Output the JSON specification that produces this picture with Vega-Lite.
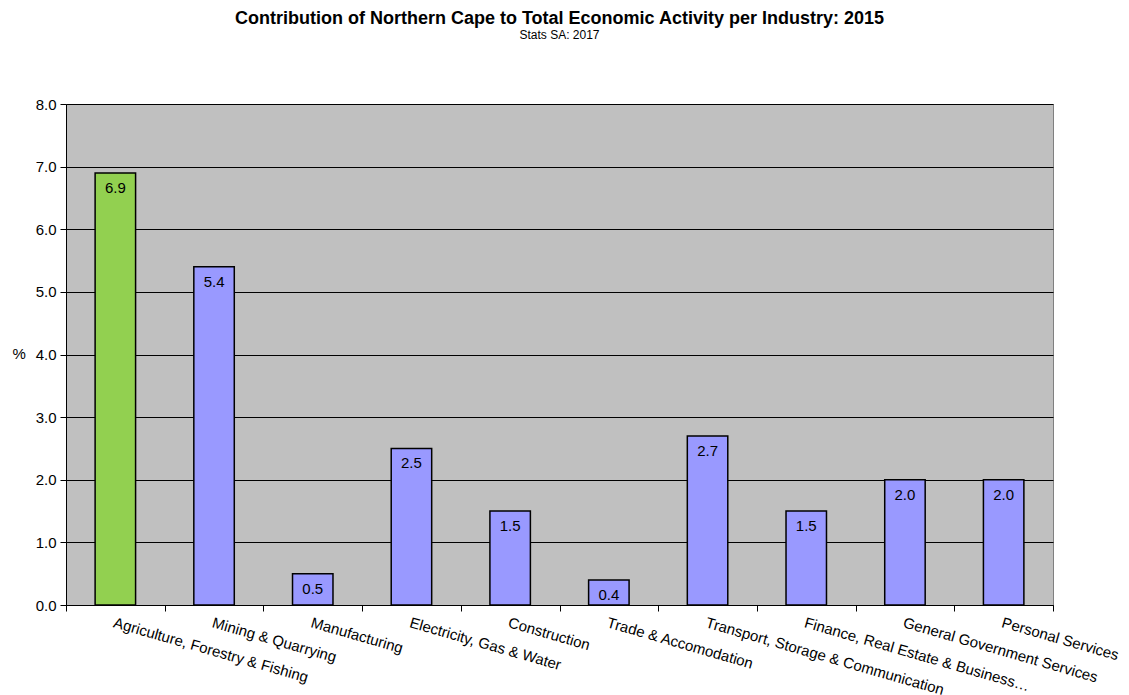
{
  "$schema": "https://vega.github.io/schema/vega-lite/v6.json",
  "width": 987,
  "height": 501,
  "autosize": "none",
  "padding": {"left": 66, "top": 104, "right": 76, "bottom": 90},
  "background": "#ffffff",
  "config": {
    "font": "Liberation Sans",
    "view": {"fill": "#c0c0c0", "stroke": "#808080", "strokeWidth": 1}
  },
  "title": {
    "text": "Contribution of Northern Cape to Total Economic Activity per Industry: 2015",
    "subtitle": "Stats SA: 2017",
    "fontSize": 18,
    "fontWeight": "bold",
    "font": "Liberation Sans",
    "subtitleFont": "Liberation Sans",
    "subtitleFontSize": 12,
    "subtitleColor": "#000000",
    "color": "#000000",
    "subtitlePadding": 2,
    "anchor": "middle",
    "offset": 56
  },
  "data": {
    "values": [
      {"industry": "Agriculture, Forestry & Fishing", "value": 6.9},
      {"industry": "Mining & Quarrying", "value": 5.4},
      {"industry": "Manufacturing", "value": 0.5},
      {"industry": "Electricity, Gas & Water", "value": 2.5},
      {"industry": "Construction", "value": 1.5},
      {"industry": "Trade & Accomodation", "value": 0.4},
      {"industry": "Transport, Storage & Communication", "value": 2.7},
      {"industry": "Finance, Real Estate & Business…", "value": 1.5},
      {"industry": "General Government Services", "value": 2.0},
      {"industry": "Personal Services", "value": 2.0}
    ]
  },
  "encoding": {
    "x": {
      "field": "industry",
      "type": "nominal",
      "sort": null,
      "scale": {"paddingInner": 0, "paddingOuter": 0},
      "axis": {
        "title": null,
        "tickBand": "extent",
        "labelAngle": 16,
        "labelAlign": "left",
        "labelBaseline": "top",
        "labelFontSize": 15,
        "labelColor": "#000000",
        "labelPadding": 4,
        "labelOverlap": false,
        "labelLimit": 400,
        "tickSize": 6,
        "tickColor": "#000000",
        "domainColor": "#000000",
        "grid": false
      }
    },
    "y": {
      "field": "value",
      "type": "quantitative",
      "scale": {"domain": [0, 8], "nice": false},
      "axis": {
        "title": "%",
        "titleAngle": 0,
        "titleFontSize": 15,
        "titleFontWeight": "normal",
        "titleColor": "#000000",
        "titleX": -54,
        "titleY": 257,
        "titleAlign": "left",
        "values": [0, 1, 2, 3, 4, 5, 6, 7, 8],
        "format": ".1f",
        "labelFontSize": 15,
        "labelColor": "#000000",
        "labelPadding": 4,
        "tickSize": 6,
        "tickColor": "#000000",
        "domainColor": "#000000",
        "grid": true,
        "gridColor": "#000000",
        "gridWidth": 1
      }
    }
  },
  "layer": [
    {
      "mark": {"type": "bar", "width": {"band": 0.41}, "stroke": "#000000", "strokeWidth": 1.5},
      "encoding": {
        "color": {
          "condition": {"test": "datum.industry === 'Agriculture, Forestry & Fishing'", "value": "#92d050"},
          "value": "#9999ff"
        }
      }
    },
    {
      "mark": {"type": "text", "baseline": "top", "dy": 8, "fontSize": 15, "color": "#000000", "font": "Liberation Sans"},
      "encoding": {
        "text": {"field": "value", "type": "quantitative", "format": ".1f"}
      }
    }
  ]
}
